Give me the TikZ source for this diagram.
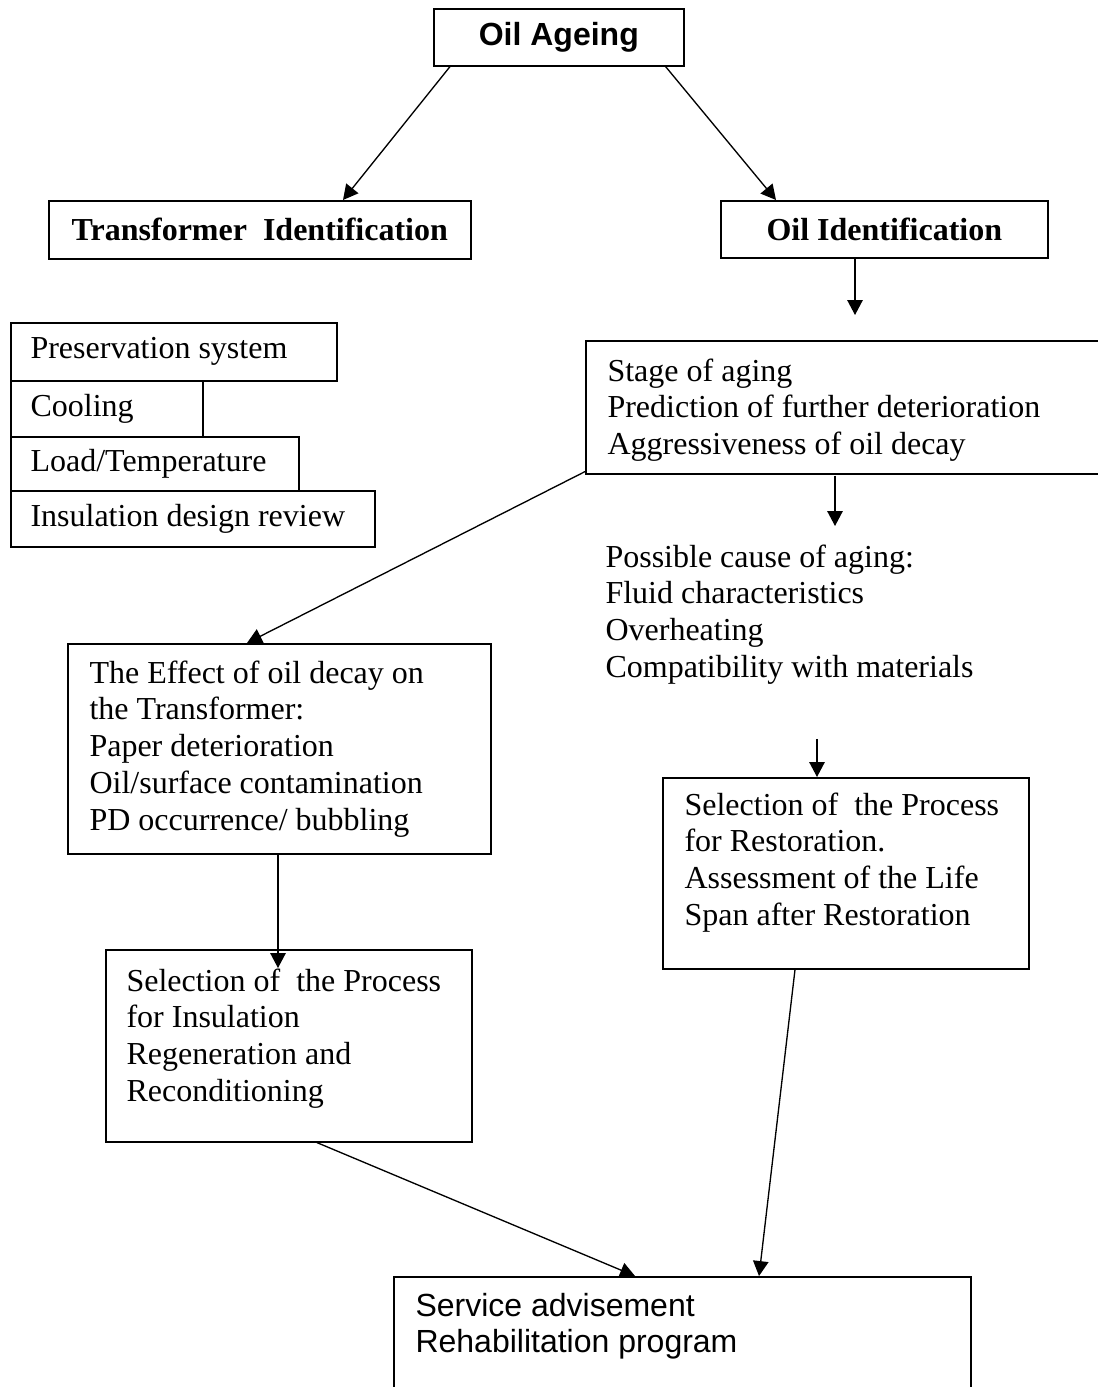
\documentclass[tikz,border=0pt]{standalone}
\usepackage{fontspec}
\setmainfont{Liberation Serif}
\newfontfamily\arialfont{Liberation Sans}
\usetikzlibrary{arrows.meta}
\usetikzlibrary{calc}
\newcommand\pxu{0.375pt}
\newcommand\tnr{\fontsize{12}{13.8}\selectfont}
\newcommand\arl{\arialfont\fontsize{12}{13.5}\selectfont}

\begin{document}
\begin{tikzpicture}[x=0.375pt, y=-0.375pt,
    box/.style={draw, line width=0.6pt, anchor=north west, inner sep=0pt},
    txt/.style={anchor=north west, inner sep=0pt, align=left, font=\tnr},
    arr/.style={line width=0.5pt, -{Triangle[length=5.6pt,width=5.8pt]}}]
        \useasboundingbox (0,0) rectangle (1098,1387);
        %
        \node [box, minimum width=250*\pxu, minimum height=57*\pxu, font=\arl\bfseries] (ageing) at (433,8) {Oil Ageing};
        \node [box, minimum width=422*\pxu, minimum height=58*\pxu, font=\tnr\bfseries] (trid) at (48,200) {Transformer\ \ Identification};
        \node [box, minimum width=327*\pxu, minimum height=57*\pxu, font=\tnr\bfseries] (oilid) at (720,200) {Oil Identification};
        %
        \node [box, minimum width=326*\pxu, minimum height=58*\pxu] (pres) at (10,322) {};
        \node [box, minimum width=192*\pxu, minimum height=56*\pxu] (cool) at (10,380) {};
        \node [box, minimum width=288*\pxu, minimum height=54*\pxu] (load) at (10,436) {};
        \node [box, minimum width=364*\pxu, minimum height=56*\pxu] (ins) at (10,490) {};
        \node [txt, anchor=west] (prestxt) at ($(pres.west)+(20,0)$) {Preservation system};
        \node [txt, anchor=west] (cooltxt) at ($(cool.west)+(20,0)$) {Cooling};
        \node [txt, anchor=west] (loadtxt) at ($(load.west)+(20,0)$) {Load/Temperature};
        \node [txt, anchor=west] (instxt) at ($(ins.west)+(20,0)$) {Insulation design review};
        %
        \node [box, minimum width=520*\pxu, minimum height=133*\pxu] (stage) at (585,340) {};
        \node [txt] (stagetxt) at (607,358) {Stage of aging\\Prediction of further deterioration\\Aggressiveness of oil decay};
        \node [txt] (cause) at (605,544) {Possible cause of aging:\\Fluid characteristics\\Overheating\\Compatibility with materials};
        %
        \node [box, minimum width=423*\pxu, minimum height=210*\pxu] (effect) at (67,643) {};
        \node [txt] (effecttxt) at (89,660) {The Effect of oil decay on\\the Transformer:\\Paper deterioration\\Oil/surface contamination\\PD occurrence/ bubbling};
        \node [box, minimum width=366*\pxu, minimum height=192*\pxu] (selins) at (105,949) {};
        \node [txt] (selinstxt) at (126,968) {Selection of\ \ the Process\\for Insulation\\Regeneration and\\Reconditioning};
        \node [box, minimum width=366*\pxu, minimum height=191*\pxu] (restor) at (662,777) {};
        \node [txt] (restortxt) at (684,792) {Selection of\ \ the Process\\for Restoration.\\Assessment of the Life\\Span after Restoration};
        %
        \node [box, minimum width=577*\pxu, minimum height=130*\pxu] (final) at (393,1276) {};
        \node [txt, font=\arl] (finaltxt) at (415,1293) {Service advisement\\Rehabilitation program};
        %
        \draw [arr] ($(ageing.south west)+(17,0)$) -- ($(trid.north west)+(295,0)$);
        \draw [arr] ($(ageing.south east)+(-19,0)$) -- ($(oilid.north west)+(56,0)$);
        \draw [arr] ($(oilid.south west)+(135,0)$) -- ($(stage.north west)+(270,-25)$);
        \draw [arr] ($(stage.south west)+(0,-3)$) -- ($(effect.north west)+(180,0)$);
        \draw [arr] ($(stage.south west)+(250,1)$) -- ($(cause.north west)+(230,-18)$);
        \draw [arr] ($(cause.south west)+(212,54)$) -- ($(restor.north west)+(155,0)$);
        \draw [arr] ($(effect.south west)+(211,0)$) -- ($(selins.north west)+(173,19)$);
        \draw [arr] ($(selins.south west)+(212,0)$) -- ($(final.north west)+(242,0)$);
        \draw [arr] ($(restor.south west)+(133,0)$) -- ($(final.north west)+(366,0)$);
      \end{tikzpicture}
\end{document}
